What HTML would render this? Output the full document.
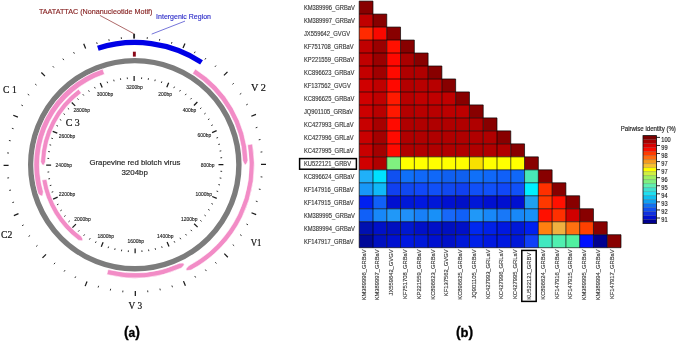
<!DOCTYPE html>
<html><head><meta charset="utf-8"><title>GRBV figure</title>
<style>html,body{margin:0;padding:0;background:#fff;}svg{display:block;filter:blur(0.45px);}</style>
</head><body>
<svg width="677" height="341" viewBox="0 0 677 341"><style>
text{font-family:"Liberation Sans",sans-serif;}
.bp{font-size:4.95px;fill:#222;stroke:#222;stroke-width:0.12px;text-anchor:middle;}
.motif{font-size:8px;fill:#862222;stroke:#862222;stroke-width:0.15px;}
.ig{font-size:8px;fill:#2c2cc8;stroke:#2c2cc8;stroke-width:0.15px;}
.ctr{font-size:8px;fill:#262626;stroke:#262626;stroke-width:0.18px;}
.orf{font-family:"Liberation Serif",serif;font-size:10px;fill:#111;stroke:#111;stroke-width:0.2px;}
.pl{font-size:13px;font-weight:bold;fill:#000;stroke:#000;stroke-width:0.3px;}
.lab{font-size:6.4px;fill:#3a3a3a;stroke:#3a3a3a;stroke-width:0.15px;}
.labr{font-size:5.8px;fill:#3a3a3a;stroke:#3a3a3a;stroke-width:0.15px;}
.cbl{font-size:6.5px;fill:#222;stroke:#222;stroke-width:0.15px;}
.cbt{font-size:6.4px;fill:#222;stroke:#222;stroke-width:0.15px;}
</style>
<g><circle cx="134.8" cy="164.7" r="104.1" fill="none" stroke="#7c7c7c" stroke-width="5.4"/>
<path d="M43.28 191.64Q42.86 199.62 37.91 193.22A101 101 0 0 1 102.75 68.92L104.53 74.23A95.4 95.4 0 0 0 43.28 191.64Z" fill="#f28cc6" stroke="#fff" stroke-width="0.6"/>
<path d="M45.44 161.89Q42.96 168.87 40.65 161.74A94.2 94.2 0 0 1 78.5 89.17L81.37 93.02A89.4 89.4 0 0 0 45.44 161.89Z" fill="#f28cc6" stroke="#fff" stroke-width="0.6"/>
<path d="M81.25 236.29Q85.53 242.32 78.37 240.13A94.2 94.2 0 0 1 41.86 180.09L46.6 179.3A89.4 89.4 0 0 0 81.25 236.29Z" fill="#f28cc6" stroke="#fff" stroke-width="0.6"/>
<path d="M195.29 69.02A113.2 113.2 0 0 1 247.92 160.35Q245.48 168.95 242.72 160.55A108 108 0 0 0 192.51 73.41Z" fill="#f28cc6" stroke="#fff" stroke-width="0.6"/>
<path d="M252.48 143.95A119.5 119.5 0 0 1 191.09 270.11Q181.9 271.99 188.73 265.7A114.5 114.5 0 0 0 247.56 144.82Z" fill="#f28cc6" stroke="#fff" stroke-width="0.6"/>
<path d="M179.33 263.31Q188.08 262.03 181.47 268.05A113.4 113.4 0 0 1 106.79 274.59L108.07 269.55A108.2 108.2 0 0 0 179.33 263.31Z" fill="#f28cc6" stroke="#fff" stroke-width="0.6"/>
<path d="M97.85 48.22A122.2 122.2 0 0 1 201.53 62.33" fill="none" stroke="#0000e6" stroke-width="5.2"/>
<line x1="141.53" y1="79.06" x2="141.66" y2="77.37" stroke="#333" stroke-width="1"/>
<line x1="148.22" y1="79.85" x2="148.49" y2="78.18" stroke="#333" stroke-width="1"/>
<line x1="154.83" y1="81.17" x2="155.22" y2="79.51" stroke="#333" stroke-width="1"/>
<line x1="161.31" y1="82.99" x2="161.84" y2="81.38" stroke="#333" stroke-width="1"/>
<line x1="166.79" y1="87.36" x2="168.67" y2="82.83" stroke="#1a1a1a" stroke-width="1.25"/>
<line x1="173.75" y1="88.14" x2="174.52" y2="86.62" stroke="#333" stroke-width="1"/>
<line x1="179.63" y1="91.43" x2="180.52" y2="89.98" stroke="#333" stroke-width="1"/>
<line x1="185.24" y1="95.17" x2="186.23" y2="93.79" stroke="#333" stroke-width="1"/>
<line x1="190.53" y1="99.33" x2="191.63" y2="98.04" stroke="#333" stroke-width="1"/>
<line x1="193.93" y1="105.46" x2="197.39" y2="101.99" stroke="#1a1a1a" stroke-width="1.25"/>
<line x1="200.06" y1="108.84" x2="201.35" y2="107.74" stroke="#333" stroke-width="1"/>
<line x1="204.24" y1="114.13" x2="205.61" y2="113.13" stroke="#333" stroke-width="1"/>
<line x1="207.98" y1="119.72" x2="209.43" y2="118.83" stroke="#333" stroke-width="1"/>
<line x1="211.28" y1="125.6" x2="212.8" y2="124.82" stroke="#333" stroke-width="1"/>
<line x1="212.08" y1="132.56" x2="216.61" y2="130.67" stroke="#1a1a1a" stroke-width="1.25"/>
<line x1="216.45" y1="138.03" x2="218.07" y2="137.5" stroke="#333" stroke-width="1"/>
<line x1="218.29" y1="144.51" x2="219.95" y2="144.11" stroke="#333" stroke-width="1"/>
<line x1="219.62" y1="151.11" x2="221.3" y2="150.84" stroke="#333" stroke-width="1"/>
<line x1="220.42" y1="157.8" x2="222.12" y2="157.66" stroke="#333" stroke-width="1"/>
<line x1="218.5" y1="164.54" x2="223.4" y2="164.53" stroke="#1a1a1a" stroke-width="1.25"/>
<line x1="220.45" y1="171.26" x2="222.14" y2="171.39" stroke="#333" stroke-width="1"/>
<line x1="219.67" y1="177.95" x2="221.35" y2="178.22" stroke="#333" stroke-width="1"/>
<line x1="218.37" y1="184.56" x2="220.03" y2="184.96" stroke="#333" stroke-width="1"/>
<line x1="216.56" y1="191.05" x2="218.18" y2="191.57" stroke="#333" stroke-width="1"/>
<line x1="212.21" y1="196.54" x2="216.74" y2="198.4" stroke="#1a1a1a" stroke-width="1.25"/>
<line x1="211.44" y1="203.5" x2="212.95" y2="204.27" stroke="#333" stroke-width="1"/>
<line x1="208.16" y1="209.39" x2="209.61" y2="210.27" stroke="#333" stroke-width="1"/>
<line x1="204.43" y1="215" x2="205.81" y2="216" stroke="#333" stroke-width="1"/>
<line x1="200.28" y1="220.3" x2="201.57" y2="221.4" stroke="#333" stroke-width="1"/>
<line x1="194.16" y1="223.71" x2="197.63" y2="227.17" stroke="#1a1a1a" stroke-width="1.25"/>
<line x1="190.79" y1="229.85" x2="191.89" y2="231.14" stroke="#333" stroke-width="1"/>
<line x1="185.51" y1="234.04" x2="186.51" y2="235.41" stroke="#333" stroke-width="1"/>
<line x1="179.92" y1="237.8" x2="180.81" y2="239.24" stroke="#333" stroke-width="1"/>
<line x1="174.05" y1="241.11" x2="174.83" y2="242.62" stroke="#333" stroke-width="1"/>
<line x1="167.1" y1="241.92" x2="168.99" y2="246.44" stroke="#1a1a1a" stroke-width="1.25"/>
<line x1="161.63" y1="246.3" x2="162.16" y2="247.92" stroke="#333" stroke-width="1"/>
<line x1="155.16" y1="248.15" x2="155.56" y2="249.8" stroke="#333" stroke-width="1"/>
<line x1="148.55" y1="249.49" x2="148.83" y2="251.17" stroke="#333" stroke-width="1"/>
<line x1="141.87" y1="250.31" x2="142.01" y2="252" stroke="#333" stroke-width="1"/>
<line x1="135.13" y1="248.4" x2="135.15" y2="253.3" stroke="#1a1a1a" stroke-width="1.25"/>
<line x1="128.4" y1="250.36" x2="128.28" y2="252.06" stroke="#333" stroke-width="1"/>
<line x1="121.71" y1="249.6" x2="121.45" y2="251.28" stroke="#333" stroke-width="1"/>
<line x1="115.1" y1="248.31" x2="114.71" y2="249.97" stroke="#333" stroke-width="1"/>
<line x1="108.61" y1="246.51" x2="108.09" y2="248.13" stroke="#333" stroke-width="1"/>
<line x1="103.11" y1="242.17" x2="101.26" y2="246.7" stroke="#1a1a1a" stroke-width="1.25"/>
<line x1="96.15" y1="241.41" x2="95.38" y2="242.93" stroke="#333" stroke-width="1"/>
<line x1="90.26" y1="238.15" x2="89.37" y2="239.6" stroke="#333" stroke-width="1"/>
<line x1="84.64" y1="234.43" x2="83.64" y2="235.81" stroke="#333" stroke-width="1"/>
<line x1="79.33" y1="230.29" x2="78.23" y2="231.58" stroke="#333" stroke-width="1"/>
<line x1="75.91" y1="224.17" x2="72.46" y2="227.66" stroke="#1a1a1a" stroke-width="1.25"/>
<line x1="69.76" y1="220.81" x2="68.47" y2="221.92" stroke="#333" stroke-width="1"/>
<line x1="65.56" y1="215.54" x2="64.19" y2="216.55" stroke="#333" stroke-width="1"/>
<line x1="61.79" y1="209.96" x2="60.35" y2="210.86" stroke="#333" stroke-width="1"/>
<line x1="58.47" y1="204.1" x2="56.96" y2="204.88" stroke="#333" stroke-width="1"/>
<line x1="57.65" y1="197.15" x2="53.13" y2="199.05" stroke="#1a1a1a" stroke-width="1.25"/>
<line x1="53.25" y1="191.69" x2="51.64" y2="192.23" stroke="#333" stroke-width="1"/>
<line x1="51.39" y1="185.22" x2="49.74" y2="185.63" stroke="#333" stroke-width="1"/>
<line x1="50.04" y1="178.62" x2="48.36" y2="178.9" stroke="#333" stroke-width="1"/>
<line x1="49.21" y1="171.93" x2="47.51" y2="172.08" stroke="#333" stroke-width="1"/>
<line x1="51.1" y1="165.19" x2="46.2" y2="165.22" stroke="#1a1a1a" stroke-width="1.25"/>
<line x1="49.13" y1="158.47" x2="47.43" y2="158.35" stroke="#333" stroke-width="1"/>
<line x1="49.88" y1="151.78" x2="48.2" y2="151.52" stroke="#333" stroke-width="1"/>
<line x1="51.15" y1="145.16" x2="49.5" y2="144.78" stroke="#333" stroke-width="1"/>
<line x1="52.94" y1="138.67" x2="51.32" y2="138.15" stroke="#333" stroke-width="1"/>
<line x1="57.27" y1="133.16" x2="52.73" y2="131.32" stroke="#1a1a1a" stroke-width="1.25"/>
<line x1="58.01" y1="126.2" x2="56.49" y2="125.44" stroke="#333" stroke-width="1"/>
<line x1="61.26" y1="120.3" x2="59.81" y2="119.42" stroke="#333" stroke-width="1"/>
<line x1="64.97" y1="114.67" x2="63.59" y2="113.68" stroke="#333" stroke-width="1"/>
<line x1="69.11" y1="109.36" x2="67.81" y2="108.26" stroke="#333" stroke-width="1"/>
<line x1="75.21" y1="105.92" x2="71.72" y2="102.48" stroke="#1a1a1a" stroke-width="1.25"/>
<line x1="78.56" y1="99.77" x2="77.45" y2="98.49" stroke="#333" stroke-width="1"/>
<line x1="83.82" y1="95.56" x2="82.81" y2="94.2" stroke="#333" stroke-width="1"/>
<line x1="89.39" y1="91.78" x2="88.5" y2="90.34" stroke="#333" stroke-width="1"/>
<line x1="95.25" y1="88.45" x2="94.47" y2="86.94" stroke="#333" stroke-width="1"/>
<line x1="102.2" y1="87.61" x2="100.29" y2="83.1" stroke="#1a1a1a" stroke-width="1.25"/>
<line x1="107.65" y1="83.2" x2="107.11" y2="81.59" stroke="#333" stroke-width="1"/>
<line x1="114.12" y1="81.33" x2="113.71" y2="79.68" stroke="#333" stroke-width="1"/>
<line x1="120.71" y1="79.96" x2="120.44" y2="78.29" stroke="#333" stroke-width="1"/>
<line x1="127.4" y1="79.12" x2="127.25" y2="77.43" stroke="#333" stroke-width="1"/>
<line x1="134.14" y1="81" x2="134.11" y2="76.1" stroke="#1a1a1a" stroke-width="1.25"/>
<line x1="147.17" y1="38.91" x2="147.35" y2="37.12" stroke="#333" stroke-width="1"/>
<line x1="159.43" y1="40.72" x2="159.78" y2="38.96" stroke="#333" stroke-width="1"/>
<line x1="171.45" y1="43.73" x2="171.97" y2="42.01" stroke="#333" stroke-width="1"/>
<line x1="183.04" y1="48.08" x2="184.95" y2="43.46" stroke="#1a1a1a" stroke-width="1.25"/>
<line x1="194.32" y1="53.19" x2="195.16" y2="51.6" stroke="#333" stroke-width="1"/>
<line x1="204.95" y1="59.55" x2="205.95" y2="58.05" stroke="#333" stroke-width="1"/>
<line x1="214.9" y1="66.92" x2="216.04" y2="65.53" stroke="#333" stroke-width="1"/>
<line x1="223.95" y1="75.38" x2="227.48" y2="71.84" stroke="#1a1a1a" stroke-width="1.25"/>
<line x1="232.42" y1="84.4" x2="233.81" y2="83.26" stroke="#333" stroke-width="1"/>
<line x1="239.81" y1="94.35" x2="241.31" y2="93.35" stroke="#333" stroke-width="1"/>
<line x1="246.19" y1="104.97" x2="247.78" y2="104.11" stroke="#333" stroke-width="1"/>
<line x1="251.32" y1="116.23" x2="255.94" y2="114.31" stroke="#1a1a1a" stroke-width="1.25"/>
<line x1="255.7" y1="127.82" x2="257.42" y2="127.29" stroke="#333" stroke-width="1"/>
<line x1="258.73" y1="139.83" x2="260.49" y2="139.47" stroke="#333" stroke-width="1"/>
<line x1="260.57" y1="152.08" x2="262.36" y2="151.9" stroke="#333" stroke-width="1"/>
<line x1="261" y1="164.45" x2="266" y2="164.44" stroke="#1a1a1a" stroke-width="1.25"/>
<line x1="260.62" y1="176.83" x2="262.41" y2="177" stroke="#333" stroke-width="1"/>
<line x1="258.83" y1="189.09" x2="260.59" y2="189.43" stroke="#333" stroke-width="1"/>
<line x1="255.84" y1="201.11" x2="257.57" y2="201.63" stroke="#333" stroke-width="1"/>
<line x1="251.51" y1="212.71" x2="256.14" y2="214.61" stroke="#1a1a1a" stroke-width="1.25"/>
<line x1="246.43" y1="224" x2="248.02" y2="224.84" stroke="#333" stroke-width="1"/>
<line x1="240.09" y1="234.64" x2="241.59" y2="235.64" stroke="#333" stroke-width="1"/>
<line x1="232.73" y1="244.61" x2="234.13" y2="245.75" stroke="#333" stroke-width="1"/>
<line x1="224.3" y1="253.67" x2="227.84" y2="257.2" stroke="#1a1a1a" stroke-width="1.25"/>
<line x1="215.29" y1="262.16" x2="216.43" y2="263.55" stroke="#333" stroke-width="1"/>
<line x1="205.36" y1="269.57" x2="206.36" y2="271.07" stroke="#333" stroke-width="1"/>
<line x1="194.75" y1="275.98" x2="195.61" y2="277.56" stroke="#333" stroke-width="1"/>
<line x1="183.49" y1="281.13" x2="185.42" y2="285.74" stroke="#1a1a1a" stroke-width="1.25"/>
<line x1="171.92" y1="285.53" x2="172.45" y2="287.25" stroke="#333" stroke-width="1"/>
<line x1="159.92" y1="288.58" x2="160.27" y2="290.34" stroke="#333" stroke-width="1"/>
<line x1="147.67" y1="290.44" x2="147.85" y2="292.23" stroke="#333" stroke-width="1"/>
<line x1="135.29" y1="290.9" x2="135.31" y2="295.9" stroke="#1a1a1a" stroke-width="1.25"/>
<line x1="122.92" y1="290.54" x2="122.75" y2="292.33" stroke="#333" stroke-width="1"/>
<line x1="110.66" y1="288.77" x2="110.31" y2="290.54" stroke="#333" stroke-width="1"/>
<line x1="98.63" y1="285.81" x2="98.11" y2="287.54" stroke="#333" stroke-width="1"/>
<line x1="87.02" y1="281.51" x2="85.13" y2="286.13" stroke="#1a1a1a" stroke-width="1.25"/>
<line x1="75.72" y1="276.44" x2="74.88" y2="278.04" stroke="#333" stroke-width="1"/>
<line x1="65.07" y1="270.12" x2="64.07" y2="271.62" stroke="#333" stroke-width="1"/>
<line x1="55.08" y1="262.79" x2="53.95" y2="264.19" stroke="#333" stroke-width="1"/>
<line x1="46" y1="254.37" x2="42.48" y2="257.93" stroke="#1a1a1a" stroke-width="1.25"/>
<line x1="37.5" y1="245.38" x2="36.11" y2="246.53" stroke="#333" stroke-width="1"/>
<line x1="30.07" y1="235.46" x2="28.57" y2="236.47" stroke="#333" stroke-width="1"/>
<line x1="23.64" y1="224.87" x2="22.06" y2="225.73" stroke="#333" stroke-width="1"/>
<line x1="18.47" y1="213.62" x2="13.86" y2="215.56" stroke="#1a1a1a" stroke-width="1.25"/>
<line x1="14.05" y1="202.06" x2="12.33" y2="202.59" stroke="#333" stroke-width="1"/>
<line x1="10.97" y1="190.06" x2="9.21" y2="190.42" stroke="#333" stroke-width="1"/>
<line x1="9.08" y1="177.81" x2="7.29" y2="178" stroke="#333" stroke-width="1"/>
<line x1="8.6" y1="165.44" x2="3.6" y2="165.47" stroke="#1a1a1a" stroke-width="1.25"/>
<line x1="8.94" y1="153.07" x2="7.14" y2="152.9" stroke="#333" stroke-width="1"/>
<line x1="10.68" y1="140.8" x2="8.91" y2="140.46" stroke="#333" stroke-width="1"/>
<line x1="13.62" y1="128.76" x2="11.89" y2="128.25" stroke="#333" stroke-width="1"/>
<line x1="17.9" y1="117.15" x2="13.27" y2="115.27" stroke="#1a1a1a" stroke-width="1.25"/>
<line x1="22.94" y1="105.84" x2="21.35" y2="105" stroke="#333" stroke-width="1"/>
<line x1="29.24" y1="95.17" x2="27.74" y2="94.18" stroke="#333" stroke-width="1"/>
<line x1="36.55" y1="85.17" x2="35.15" y2="84.04" stroke="#333" stroke-width="1"/>
<line x1="44.95" y1="76.08" x2="41.39" y2="72.57" stroke="#1a1a1a" stroke-width="1.25"/>
<line x1="53.93" y1="67.55" x2="52.78" y2="66.17" stroke="#333" stroke-width="1"/>
<line x1="63.83" y1="60.1" x2="62.82" y2="58.61" stroke="#333" stroke-width="1"/>
<line x1="74.41" y1="53.66" x2="73.55" y2="52.08" stroke="#333" stroke-width="1"/>
<line x1="85.65" y1="48.46" x2="83.7" y2="43.86" stroke="#1a1a1a" stroke-width="1.25"/>
<line x1="97.2" y1="44.02" x2="96.67" y2="42.3" stroke="#333" stroke-width="1"/>
<line x1="109.2" y1="40.92" x2="108.83" y2="39.16" stroke="#333" stroke-width="1"/>
<line x1="121.44" y1="39.01" x2="121.25" y2="37.22" stroke="#333" stroke-width="1"/>
<line x1="134.1" y1="33.7" x2="134.1" y2="38.6" stroke="#2a2a2a" stroke-width="1.9"/>
<text x="165.2" y="95.85" class="bp">200bp</text>
<text x="189.5" y="111.75" class="bp">400bp</text>
<text x="204.3" y="137.15" class="bp">600bp</text>
<text x="207.6" y="166.65" class="bp">800bp</text>
<text x="203.8" y="195.95" class="bp">1000bp</text>
<text x="189.3" y="221.25" class="bp">1200bp</text>
<text x="165.3" y="237.95" class="bp">1400bp</text>
<text x="135.85" y="243.45" class="bp">1600bp</text>
<text x="105.8" y="238.15" class="bp">1800bp</text>
<text x="82.4" y="221.25" class="bp">2000bp</text>
<text x="67" y="196.35" class="bp">2200bp</text>
<text x="63.7" y="166.75" class="bp">2400bp</text>
<text x="67.1" y="137.55" class="bp">2600bp</text>
<text x="81.7" y="112.25" class="bp">2800bp</text>
<text x="105.1" y="95.85" class="bp">3000bp</text>
<text x="134.4" y="89.45" class="bp">3200bp</text>
<rect x="132.9" y="51.7" width="2.9" height="4.9" fill="#8a0818"/>
<line x1="99.9" y1="15.4" x2="133.7" y2="33.6" stroke="#8b2a2a" stroke-width="0.7"/>
<line x1="185" y1="21.1" x2="151.7" y2="34.1" stroke="#3a3ac8" stroke-width="0.7"/>
<text x="38.9" y="13.8" class="motif" textLength="113.6" lengthAdjust="spacingAndGlyphs">TAATATTAC (Nonanucleotide Motif)</text>
<text x="156.1" y="19.2" class="ig" textLength="54.9" lengthAdjust="spacingAndGlyphs">Intergenic Region</text>
<text x="89.4" y="165.4" class="ctr" textLength="91" lengthAdjust="spacingAndGlyphs">Grapevine red blotch virus</text>
<text x="121.4" y="175.2" class="ctr" textLength="26.5" lengthAdjust="spacingAndGlyphs">3204bp</text>
<text x="3.1" y="92.6" class="orf" textLength="13.6" lengthAdjust="spacingAndGlyphs">C 1</text>
<text x="65.7" y="126" class="orf" textLength="14.1" lengthAdjust="spacingAndGlyphs">C 3</text>
<text x="1.05" y="238" class="orf" textLength="11.3" lengthAdjust="spacingAndGlyphs">C2</text>
<text x="251" y="91" class="orf" textLength="14.9" lengthAdjust="spacingAndGlyphs">V 2</text>
<text x="250.7" y="246" class="orf" textLength="10.7" lengthAdjust="spacingAndGlyphs">V1</text>
<text x="128.6" y="309" class="orf" textLength="13.6" lengthAdjust="spacingAndGlyphs">V 3</text>
<text x="123.9" y="336.9" class="pl"><tspan font-size="14">(</tspan><tspan font-size="12">a</tspan><tspan font-size="14">)</tspan></text>
<text x="455.9" y="336.9" class="pl"><tspan font-size="14">(</tspan><tspan font-size="13">b</tspan><tspan font-size="14">)</tspan></text></g>
<g><rect x="359.2" y="1.1" width="13.78" height="12.98" fill="#880000"/>
<rect x="359.2" y="14.08" width="13.78" height="12.98" fill="#c00000"/>
<rect x="372.98" y="14.08" width="13.78" height="12.98" fill="#880000"/>
<rect x="359.2" y="27.06" width="13.78" height="12.98" fill="#ff2a00"/>
<rect x="372.98" y="27.06" width="13.78" height="12.98" fill="#f80800"/>
<rect x="386.76" y="27.06" width="13.78" height="12.98" fill="#880000"/>
<rect x="359.2" y="40.04" width="13.78" height="12.98" fill="#c00000"/>
<rect x="372.98" y="40.04" width="13.78" height="12.98" fill="#9a0000"/>
<rect x="386.76" y="40.04" width="13.78" height="12.98" fill="#ff1000"/>
<rect x="400.54" y="40.04" width="13.78" height="12.98" fill="#880000"/>
<rect x="359.2" y="53.02" width="13.78" height="12.98" fill="#c00000"/>
<rect x="372.98" y="53.02" width="13.78" height="12.98" fill="#9a0000"/>
<rect x="386.76" y="53.02" width="13.78" height="12.98" fill="#ff0800"/>
<rect x="400.54" y="53.02" width="13.78" height="12.98" fill="#aa0000"/>
<rect x="414.32" y="53.02" width="13.78" height="12.98" fill="#880000"/>
<rect x="359.2" y="65.99" width="13.78" height="12.98" fill="#c40000"/>
<rect x="372.98" y="65.99" width="13.78" height="12.98" fill="#a00000"/>
<rect x="386.76" y="65.99" width="13.78" height="12.98" fill="#ff0a00"/>
<rect x="400.54" y="65.99" width="13.78" height="12.98" fill="#b00000"/>
<rect x="414.32" y="65.99" width="13.78" height="12.98" fill="#b00000"/>
<rect x="428.09" y="65.99" width="13.78" height="12.98" fill="#880000"/>
<rect x="359.2" y="78.97" width="13.78" height="12.98" fill="#d00000"/>
<rect x="372.98" y="78.97" width="13.78" height="12.98" fill="#c00000"/>
<rect x="386.76" y="78.97" width="13.78" height="12.98" fill="#ff0800"/>
<rect x="400.54" y="78.97" width="13.78" height="12.98" fill="#b40000"/>
<rect x="414.32" y="78.97" width="13.78" height="12.98" fill="#b80000"/>
<rect x="428.09" y="78.97" width="13.78" height="12.98" fill="#b80000"/>
<rect x="441.87" y="78.97" width="13.78" height="12.98" fill="#880000"/>
<rect x="359.2" y="91.95" width="13.78" height="12.98" fill="#d00000"/>
<rect x="372.98" y="91.95" width="13.78" height="12.98" fill="#c00000"/>
<rect x="386.76" y="91.95" width="13.78" height="12.98" fill="#ff1a00"/>
<rect x="400.54" y="91.95" width="13.78" height="12.98" fill="#b80000"/>
<rect x="414.32" y="91.95" width="13.78" height="12.98" fill="#c00000"/>
<rect x="428.09" y="91.95" width="13.78" height="12.98" fill="#c00000"/>
<rect x="441.87" y="91.95" width="13.78" height="12.98" fill="#c00000"/>
<rect x="455.65" y="91.95" width="13.78" height="12.98" fill="#880000"/>
<rect x="359.2" y="104.93" width="13.78" height="12.98" fill="#cc0000"/>
<rect x="372.98" y="104.93" width="13.78" height="12.98" fill="#b80000"/>
<rect x="386.76" y="104.93" width="13.78" height="12.98" fill="#ff1800"/>
<rect x="400.54" y="104.93" width="13.78" height="12.98" fill="#b40000"/>
<rect x="414.32" y="104.93" width="13.78" height="12.98" fill="#b80000"/>
<rect x="428.09" y="104.93" width="13.78" height="12.98" fill="#b80000"/>
<rect x="441.87" y="104.93" width="13.78" height="12.98" fill="#bc0000"/>
<rect x="455.65" y="104.93" width="13.78" height="12.98" fill="#bc0000"/>
<rect x="469.43" y="104.93" width="13.78" height="12.98" fill="#880000"/>
<rect x="359.2" y="117.91" width="13.78" height="12.98" fill="#c80000"/>
<rect x="372.98" y="117.91" width="13.78" height="12.98" fill="#a80000"/>
<rect x="386.76" y="117.91" width="13.78" height="12.98" fill="#ff0a00"/>
<rect x="400.54" y="117.91" width="13.78" height="12.98" fill="#b00000"/>
<rect x="414.32" y="117.91" width="13.78" height="12.98" fill="#b00000"/>
<rect x="428.09" y="117.91" width="13.78" height="12.98" fill="#b00000"/>
<rect x="441.87" y="117.91" width="13.78" height="12.98" fill="#b00000"/>
<rect x="455.65" y="117.91" width="13.78" height="12.98" fill="#b00000"/>
<rect x="469.43" y="117.91" width="13.78" height="12.98" fill="#b00000"/>
<rect x="483.21" y="117.91" width="13.78" height="12.98" fill="#880000"/>
<rect x="359.2" y="130.89" width="13.78" height="12.98" fill="#c80000"/>
<rect x="372.98" y="130.89" width="13.78" height="12.98" fill="#a40000"/>
<rect x="386.76" y="130.89" width="13.78" height="12.98" fill="#ff0a00"/>
<rect x="400.54" y="130.89" width="13.78" height="12.98" fill="#b00000"/>
<rect x="414.32" y="130.89" width="13.78" height="12.98" fill="#b00000"/>
<rect x="428.09" y="130.89" width="13.78" height="12.98" fill="#b00000"/>
<rect x="441.87" y="130.89" width="13.78" height="12.98" fill="#b00000"/>
<rect x="455.65" y="130.89" width="13.78" height="12.98" fill="#b00000"/>
<rect x="469.43" y="130.89" width="13.78" height="12.98" fill="#b00000"/>
<rect x="483.21" y="130.89" width="13.78" height="12.98" fill="#b00000"/>
<rect x="496.99" y="130.89" width="13.78" height="12.98" fill="#880000"/>
<rect x="359.2" y="143.87" width="13.78" height="12.98" fill="#c80000"/>
<rect x="372.98" y="143.87" width="13.78" height="12.98" fill="#a40000"/>
<rect x="386.76" y="143.87" width="13.78" height="12.98" fill="#ff0a00"/>
<rect x="400.54" y="143.87" width="13.78" height="12.98" fill="#b00000"/>
<rect x="414.32" y="143.87" width="13.78" height="12.98" fill="#b00000"/>
<rect x="428.09" y="143.87" width="13.78" height="12.98" fill="#b00000"/>
<rect x="441.87" y="143.87" width="13.78" height="12.98" fill="#b00000"/>
<rect x="455.65" y="143.87" width="13.78" height="12.98" fill="#b00000"/>
<rect x="469.43" y="143.87" width="13.78" height="12.98" fill="#b00000"/>
<rect x="483.21" y="143.87" width="13.78" height="12.98" fill="#b00000"/>
<rect x="496.99" y="143.87" width="13.78" height="12.98" fill="#b00000"/>
<rect x="510.77" y="143.87" width="13.78" height="12.98" fill="#880000"/>
<rect x="359.2" y="156.85" width="13.78" height="12.98" fill="#d00000"/>
<rect x="372.98" y="156.85" width="13.78" height="12.98" fill="#b00000"/>
<rect x="386.76" y="156.85" width="13.78" height="12.98" fill="#80f080"/>
<rect x="400.54" y="156.85" width="13.78" height="12.98" fill="#ffff00"/>
<rect x="414.32" y="156.85" width="13.78" height="12.98" fill="#ffff00"/>
<rect x="428.09" y="156.85" width="13.78" height="12.98" fill="#ffff00"/>
<rect x="441.87" y="156.85" width="13.78" height="12.98" fill="#ffff00"/>
<rect x="455.65" y="156.85" width="13.78" height="12.98" fill="#ffff00"/>
<rect x="469.43" y="156.85" width="13.78" height="12.98" fill="#f8e000"/>
<rect x="483.21" y="156.85" width="13.78" height="12.98" fill="#ffff00"/>
<rect x="496.99" y="156.85" width="13.78" height="12.98" fill="#ffff00"/>
<rect x="510.77" y="156.85" width="13.78" height="12.98" fill="#ffff00"/>
<rect x="524.55" y="156.85" width="13.78" height="12.98" fill="#880000"/>
<rect x="359.2" y="169.83" width="13.78" height="12.98" fill="#20b0f8"/>
<rect x="372.98" y="169.83" width="13.78" height="12.98" fill="#00e0ff"/>
<rect x="386.76" y="169.83" width="13.78" height="12.98" fill="#1050f0"/>
<rect x="400.54" y="169.83" width="13.78" height="12.98" fill="#1070f8"/>
<rect x="414.32" y="169.83" width="13.78" height="12.98" fill="#1068f8"/>
<rect x="428.09" y="169.83" width="13.78" height="12.98" fill="#1068f8"/>
<rect x="441.87" y="169.83" width="13.78" height="12.98" fill="#1060f0"/>
<rect x="455.65" y="169.83" width="13.78" height="12.98" fill="#1060f0"/>
<rect x="469.43" y="169.83" width="13.78" height="12.98" fill="#1070f8"/>
<rect x="483.21" y="169.83" width="13.78" height="12.98" fill="#1068f8"/>
<rect x="496.99" y="169.83" width="13.78" height="12.98" fill="#1060f8"/>
<rect x="510.77" y="169.83" width="13.78" height="12.98" fill="#1068f8"/>
<rect x="524.55" y="169.83" width="13.78" height="12.98" fill="#48e8b8"/>
<rect x="538.33" y="169.83" width="13.78" height="12.98" fill="#880000"/>
<rect x="359.2" y="182.81" width="13.78" height="12.98" fill="#1898f8"/>
<rect x="372.98" y="182.81" width="13.78" height="12.98" fill="#10b8f8"/>
<rect x="386.76" y="182.81" width="13.78" height="12.98" fill="#1040f0"/>
<rect x="400.54" y="182.81" width="13.78" height="12.98" fill="#1048f0"/>
<rect x="414.32" y="182.81" width="13.78" height="12.98" fill="#1048f8"/>
<rect x="428.09" y="182.81" width="13.78" height="12.98" fill="#1050f8"/>
<rect x="441.87" y="182.81" width="13.78" height="12.98" fill="#1048f0"/>
<rect x="455.65" y="182.81" width="13.78" height="12.98" fill="#1040f0"/>
<rect x="469.43" y="182.81" width="13.78" height="12.98" fill="#1050f8"/>
<rect x="483.21" y="182.81" width="13.78" height="12.98" fill="#1050f8"/>
<rect x="496.99" y="182.81" width="13.78" height="12.98" fill="#1048f8"/>
<rect x="510.77" y="182.81" width="13.78" height="12.98" fill="#1050f8"/>
<rect x="524.55" y="182.81" width="13.78" height="12.98" fill="#00f0ff"/>
<rect x="538.33" y="182.81" width="13.78" height="12.98" fill="#ff3000"/>
<rect x="552.11" y="182.81" width="13.78" height="12.98" fill="#880000"/>
<rect x="359.2" y="195.78" width="13.78" height="12.98" fill="#0020f0"/>
<rect x="372.98" y="195.78" width="13.78" height="12.98" fill="#1060f8"/>
<rect x="386.76" y="195.78" width="13.78" height="12.98" fill="#0010d0"/>
<rect x="400.54" y="195.78" width="13.78" height="12.98" fill="#0018d8"/>
<rect x="414.32" y="195.78" width="13.78" height="12.98" fill="#0018e0"/>
<rect x="428.09" y="195.78" width="13.78" height="12.98" fill="#0018d8"/>
<rect x="441.87" y="195.78" width="13.78" height="12.98" fill="#0010d0"/>
<rect x="455.65" y="195.78" width="13.78" height="12.98" fill="#0010c8"/>
<rect x="469.43" y="195.78" width="13.78" height="12.98" fill="#0018d8"/>
<rect x="483.21" y="195.78" width="13.78" height="12.98" fill="#0010d0"/>
<rect x="496.99" y="195.78" width="13.78" height="12.98" fill="#0010d0"/>
<rect x="510.77" y="195.78" width="13.78" height="12.98" fill="#0010d0"/>
<rect x="524.55" y="195.78" width="13.78" height="12.98" fill="#20a0f0"/>
<rect x="538.33" y="195.78" width="13.78" height="12.98" fill="#ff3800"/>
<rect x="552.11" y="195.78" width="13.78" height="12.98" fill="#ff1000"/>
<rect x="565.88" y="195.78" width="13.78" height="12.98" fill="#880000"/>
<rect x="359.2" y="208.76" width="13.78" height="12.98" fill="#1060f8"/>
<rect x="372.98" y="208.76" width="13.78" height="12.98" fill="#1888f8"/>
<rect x="386.76" y="208.76" width="13.78" height="12.98" fill="#2098f8"/>
<rect x="400.54" y="208.76" width="13.78" height="12.98" fill="#2090f8"/>
<rect x="414.32" y="208.76" width="13.78" height="12.98" fill="#1880f8"/>
<rect x="428.09" y="208.76" width="13.78" height="12.98" fill="#1890f8"/>
<rect x="441.87" y="208.76" width="13.78" height="12.98" fill="#1868f8"/>
<rect x="455.65" y="208.76" width="13.78" height="12.98" fill="#1060f8"/>
<rect x="469.43" y="208.76" width="13.78" height="12.98" fill="#2098f8"/>
<rect x="483.21" y="208.76" width="13.78" height="12.98" fill="#1888f8"/>
<rect x="496.99" y="208.76" width="13.78" height="12.98" fill="#1878f8"/>
<rect x="510.77" y="208.76" width="13.78" height="12.98" fill="#1888f8"/>
<rect x="524.55" y="208.76" width="13.78" height="12.98" fill="#1890f8"/>
<rect x="538.33" y="208.76" width="13.78" height="12.98" fill="#ff1000"/>
<rect x="552.11" y="208.76" width="13.78" height="12.98" fill="#ff3000"/>
<rect x="565.88" y="208.76" width="13.78" height="12.98" fill="#d00000"/>
<rect x="579.66" y="208.76" width="13.78" height="12.98" fill="#880000"/>
<rect x="359.2" y="221.74" width="13.78" height="12.98" fill="#0010b0"/>
<rect x="372.98" y="221.74" width="13.78" height="12.98" fill="#0010c8"/>
<rect x="386.76" y="221.74" width="13.78" height="12.98" fill="#0010c0"/>
<rect x="400.54" y="221.74" width="13.78" height="12.98" fill="#0018d0"/>
<rect x="414.32" y="221.74" width="13.78" height="12.98" fill="#0010c8"/>
<rect x="428.09" y="221.74" width="13.78" height="12.98" fill="#0010c8"/>
<rect x="441.87" y="221.74" width="13.78" height="12.98" fill="#0010c0"/>
<rect x="455.65" y="221.74" width="13.78" height="12.98" fill="#0010c8"/>
<rect x="469.43" y="221.74" width="13.78" height="12.98" fill="#0028f0"/>
<rect x="483.21" y="221.74" width="13.78" height="12.98" fill="#0020e8"/>
<rect x="496.99" y="221.74" width="13.78" height="12.98" fill="#0018e0"/>
<rect x="510.77" y="221.74" width="13.78" height="12.98" fill="#0018d8"/>
<rect x="524.55" y="221.74" width="13.78" height="12.98" fill="#0020f0"/>
<rect x="538.33" y="221.74" width="13.78" height="12.98" fill="#ff8010"/>
<rect x="552.11" y="221.74" width="13.78" height="12.98" fill="#f0b040"/>
<rect x="565.88" y="221.74" width="13.78" height="12.98" fill="#ff7010"/>
<rect x="579.66" y="221.74" width="13.78" height="12.98" fill="#ff4000"/>
<rect x="593.44" y="221.74" width="13.78" height="12.98" fill="#880000"/>
<rect x="359.2" y="234.72" width="13.78" height="12.98" fill="#000898"/>
<rect x="372.98" y="234.72" width="13.78" height="12.98" fill="#0010c0"/>
<rect x="386.76" y="234.72" width="13.78" height="12.98" fill="#0010d0"/>
<rect x="400.54" y="234.72" width="13.78" height="12.98" fill="#0018e0"/>
<rect x="414.32" y="234.72" width="13.78" height="12.98" fill="#0018d8"/>
<rect x="428.09" y="234.72" width="13.78" height="12.98" fill="#0010d0"/>
<rect x="441.87" y="234.72" width="13.78" height="12.98" fill="#0010c8"/>
<rect x="455.65" y="234.72" width="13.78" height="12.98" fill="#0018d8"/>
<rect x="469.43" y="234.72" width="13.78" height="12.98" fill="#0020e8"/>
<rect x="483.21" y="234.72" width="13.78" height="12.98" fill="#0018e0"/>
<rect x="496.99" y="234.72" width="13.78" height="12.98" fill="#0018e0"/>
<rect x="510.77" y="234.72" width="13.78" height="12.98" fill="#0018d8"/>
<rect x="524.55" y="234.72" width="13.78" height="12.98" fill="#1040f8"/>
<rect x="538.33" y="234.72" width="13.78" height="12.98" fill="#40e8c0"/>
<rect x="552.11" y="234.72" width="13.78" height="12.98" fill="#50f0b0"/>
<rect x="565.88" y="234.72" width="13.78" height="12.98" fill="#50f0a0"/>
<rect x="579.66" y="234.72" width="13.78" height="12.98" fill="#0010ff"/>
<rect x="593.44" y="234.72" width="13.78" height="12.98" fill="#000090"/>
<rect x="607.22" y="234.72" width="13.78" height="12.98" fill="#880000"/>
<path d="M359.2 1.1H372.98M359.2 14.08H386.76M359.2 27.06H400.54M359.2 40.04H414.32M359.2 53.02H428.09M359.2 65.99H441.87M359.2 78.97H455.65M359.2 91.95H469.43M359.2 104.93H483.21M359.2 117.91H496.99M359.2 130.89H510.77M359.2 143.87H524.55M359.2 156.85H538.33M359.2 169.83H552.11M359.2 182.81H565.88M359.2 195.78H579.66M359.2 208.76H593.44M359.2 221.74H607.22M359.2 234.72H621M359.2 247.7H621M359.2 1.1V247.7M372.98 1.1V247.7M386.76 14.08V247.7M400.54 27.06V247.7M414.32 40.04V247.7M428.09 53.02V247.7M441.87 65.99V247.7M455.65 78.97V247.7M469.43 91.95V247.7M483.21 104.93V247.7M496.99 117.91V247.7M510.77 130.89V247.7M524.55 143.87V247.7M538.33 156.85V247.7M552.11 169.83V247.7M565.88 182.81V247.7M579.66 195.78V247.7M593.44 208.76V247.7M607.22 221.74V247.7M621 234.72V247.7" stroke="#000" stroke-opacity="0.85" stroke-width="0.8" fill="none"/>
<text class="lab" transform="translate(303.9 9.89) scale(0.91 1)">KM389996_GRBaV</text>
<text class="lab" transform="translate(303.9 22.87) scale(0.91 1)">KM389997_GRBaV</text>
<text class="lab" transform="translate(303.9 35.85) scale(0.91 1)">JX559642_GVGV</text>
<text class="lab" transform="translate(303.9 48.83) scale(0.91 1)">KF751708_GRBaV</text>
<text class="lab" transform="translate(303.9 61.81) scale(0.91 1)">KP221559_GRBaV</text>
<text class="lab" transform="translate(303.9 74.78) scale(0.91 1)">KC896623_GRBaV</text>
<text class="lab" transform="translate(303.9 87.76) scale(0.91 1)">KF137562_GVGV</text>
<text class="lab" transform="translate(303.9 100.74) scale(0.91 1)">KC896625_GRBaV</text>
<text class="lab" transform="translate(303.9 113.72) scale(0.91 1)">JQ901105_GRBaV</text>
<text class="lab" transform="translate(303.9 126.7) scale(0.91 1)">KC427993_GRLaV</text>
<text class="lab" transform="translate(303.9 139.68) scale(0.91 1)">KC427996_GRLaV</text>
<text class="lab" transform="translate(303.9 152.66) scale(0.91 1)">KC427995_GRLaV</text>
<text class="lab" transform="translate(303.9 165.64) scale(0.91 1)">KU522121_GRBV</text>
<text class="lab" transform="translate(303.9 178.62) scale(0.91 1)">KC896624_GRBaV</text>
<text class="lab" transform="translate(303.9 191.59) scale(0.91 1)">KF147916_GRBaV</text>
<text class="lab" transform="translate(303.9 204.57) scale(0.91 1)">KF147915_GRBaV</text>
<text class="lab" transform="translate(303.9 217.55) scale(0.91 1)">KM389995_GRBaV</text>
<text class="lab" transform="translate(303.9 230.53) scale(0.91 1)">KM389994_GRBaV</text>
<text class="lab" transform="translate(303.9 243.51) scale(0.91 1)">KF147917_GRBaV</text>
<text class="labr" text-anchor="end" transform="translate(365.69 249.4) rotate(-90)">KM389996_GRBaV</text>
<text class="labr" text-anchor="end" transform="translate(379.47 249.4) rotate(-90)">KM389997_GRBaV</text>
<text class="labr" text-anchor="end" transform="translate(393.25 249.4) rotate(-90)">JX559642_GVGV</text>
<text class="labr" text-anchor="end" transform="translate(407.03 249.4) rotate(-90)">KF751708_GRBaV</text>
<text class="labr" text-anchor="end" transform="translate(420.81 249.4) rotate(-90)">KP221559_GRBaV</text>
<text class="labr" text-anchor="end" transform="translate(434.58 249.4) rotate(-90)">KC896623_GRBaV</text>
<text class="labr" text-anchor="end" transform="translate(448.36 249.4) rotate(-90)">KF137562_GVGV</text>
<text class="labr" text-anchor="end" transform="translate(462.14 249.4) rotate(-90)">KC896625_GRBaV</text>
<text class="labr" text-anchor="end" transform="translate(475.92 249.4) rotate(-90)">JQ901105_GRBaV</text>
<text class="labr" text-anchor="end" transform="translate(489.7 249.4) rotate(-90)">KC427993_GRLaV</text>
<text class="labr" text-anchor="end" transform="translate(503.48 249.4) rotate(-90)">KC427996_GRLaV</text>
<text class="labr" text-anchor="end" transform="translate(517.26 249.4) rotate(-90)">KC427995_GRLaV</text>
<text class="labr" text-anchor="end" transform="translate(531.04 252.7) rotate(-90)">KU522121_GRBV</text>
<text class="labr" text-anchor="end" transform="translate(544.82 249.4) rotate(-90)">KC896624_GRBaV</text>
<text class="labr" text-anchor="end" transform="translate(558.59 249.4) rotate(-90)">KF147916_GRBaV</text>
<text class="labr" text-anchor="end" transform="translate(572.37 249.4) rotate(-90)">KF147915_GRBaV</text>
<text class="labr" text-anchor="end" transform="translate(586.15 249.4) rotate(-90)">KM389995_GRBaV</text>
<text class="labr" text-anchor="end" transform="translate(599.93 249.4) rotate(-90)">KM389994_GRBaV</text>
<text class="labr" text-anchor="end" transform="translate(613.71 249.4) rotate(-90)">KF147917_GRBaV</text>
<rect x="299.6" y="158.6" width="56.8" height="10.6" fill="none" stroke="#000" stroke-width="1.5"/>
<rect x="521.8" y="250.4" width="14.4" height="51" fill="none" stroke="#000" stroke-width="1.5"/>
<rect x="643" y="135.6" width="13.6" height="4.05" fill="#7a0000"/>
<rect x="643" y="139.6" width="13.6" height="4.05" fill="#a80000"/>
<rect x="643" y="143.6" width="13.6" height="4.05" fill="#d80000"/>
<rect x="643" y="147.6" width="13.6" height="4.05" fill="#fa0c00"/>
<rect x="643" y="151.6" width="13.6" height="4.05" fill="#ff3c00"/>
<rect x="643" y="155.6" width="13.6" height="4.05" fill="#ff6a10"/>
<rect x="643" y="159.6" width="13.6" height="4.05" fill="#f59a20"/>
<rect x="643" y="163.6" width="13.6" height="4.05" fill="#f8c030"/>
<rect x="643" y="167.6" width="13.6" height="4.05" fill="#ffff00"/>
<rect x="643" y="171.6" width="13.6" height="4.05" fill="#d0f040"/>
<rect x="643" y="175.6" width="13.6" height="4.05" fill="#a0f060"/>
<rect x="643" y="179.6" width="13.6" height="4.05" fill="#80f080"/>
<rect x="643" y="183.6" width="13.6" height="4.05" fill="#60f0b0"/>
<rect x="643" y="187.6" width="13.6" height="4.05" fill="#40e0d0"/>
<rect x="643" y="191.6" width="13.6" height="4.05" fill="#20e0f0"/>
<rect x="643" y="195.6" width="13.6" height="4.05" fill="#10c0f0"/>
<rect x="643" y="199.6" width="13.6" height="4.05" fill="#10a0f0"/>
<rect x="643" y="203.6" width="13.6" height="4.05" fill="#1070f0"/>
<rect x="643" y="207.6" width="13.6" height="4.05" fill="#1050f0"/>
<rect x="643" y="211.6" width="13.6" height="4.05" fill="#1030e0"/>
<rect x="643" y="215.6" width="13.6" height="4.05" fill="#0010d0"/>
<rect x="643" y="219.6" width="13.6" height="4.05" fill="#000090"/>
<path d="M643 139.6h13.6M643 143.6h13.6M643 147.6h13.6M643 151.6h13.6M643 155.6h13.6M643 159.6h13.6M643 163.6h13.6M643 167.6h13.6M643 171.6h13.6M643 175.6h13.6M643 179.6h13.6M643 183.6h13.6M643 187.6h13.6M643 191.6h13.6M643 195.6h13.6M643 199.6h13.6M643 203.6h13.6M643 207.6h13.6M643 211.6h13.6M643 215.6h13.6M643 219.6h13.6" stroke="#000" stroke-opacity="0.4" stroke-width="0.5"/>
<rect x="643" y="135.6" width="13.6" height="88" fill="none" stroke="#111" stroke-width="0.8"/>
<line x1="656.6" y1="137.4" x2="660" y2="137.4" stroke="#111" stroke-width="0.9"/>
<text class="cbl" transform="translate(661.3 141.8) scale(0.87 1)">100</text>
<line x1="656.6" y1="145.46" x2="660" y2="145.46" stroke="#111" stroke-width="0.9"/>
<text class="cbl" transform="translate(661.3 149.86) scale(0.87 1)">99</text>
<line x1="656.6" y1="153.52" x2="660" y2="153.52" stroke="#111" stroke-width="0.9"/>
<text class="cbl" transform="translate(661.3 157.92) scale(0.87 1)">98</text>
<line x1="656.6" y1="161.58" x2="660" y2="161.58" stroke="#111" stroke-width="0.9"/>
<text class="cbl" transform="translate(661.3 165.98) scale(0.87 1)">97</text>
<line x1="656.6" y1="169.64" x2="660" y2="169.64" stroke="#111" stroke-width="0.9"/>
<text class="cbl" transform="translate(661.3 174.04) scale(0.87 1)">97</text>
<line x1="656.6" y1="177.7" x2="660" y2="177.7" stroke="#111" stroke-width="0.9"/>
<text class="cbl" transform="translate(661.3 182.1) scale(0.87 1)">96</text>
<line x1="656.6" y1="185.76" x2="660" y2="185.76" stroke="#111" stroke-width="0.9"/>
<text class="cbl" transform="translate(661.3 190.16) scale(0.87 1)">95</text>
<line x1="656.6" y1="193.82" x2="660" y2="193.82" stroke="#111" stroke-width="0.9"/>
<text class="cbl" transform="translate(661.3 198.22) scale(0.87 1)">94</text>
<line x1="656.6" y1="201.88" x2="660" y2="201.88" stroke="#111" stroke-width="0.9"/>
<text class="cbl" transform="translate(661.3 206.28) scale(0.87 1)">93</text>
<line x1="656.6" y1="209.94" x2="660" y2="209.94" stroke="#111" stroke-width="0.9"/>
<text class="cbl" transform="translate(661.3 214.34) scale(0.87 1)">92</text>
<line x1="656.6" y1="218" x2="660" y2="218" stroke="#111" stroke-width="0.9"/>
<text class="cbl" transform="translate(661.3 222.4) scale(0.87 1)">91</text>
<text x="620.7" y="130.5" class="cbt" textLength="55.2" lengthAdjust="spacingAndGlyphs">Pairwise identity (%)</text></g>
</svg>
</body></html>
